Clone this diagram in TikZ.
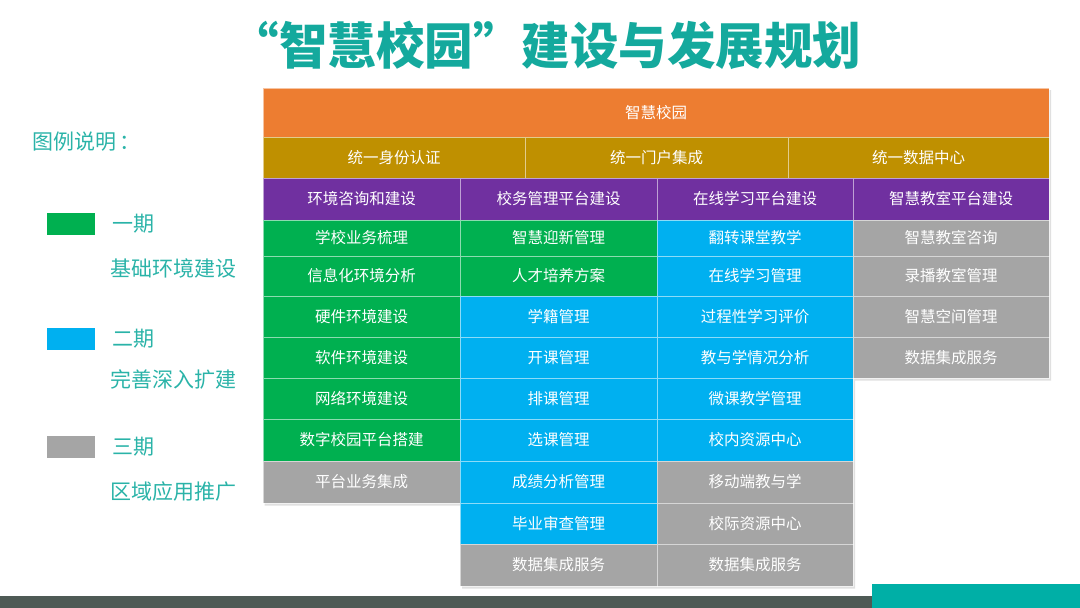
\documentclass[tikz,border=0pt]{standalone}
\usepackage{fontspec}
\newfontfamily\cjk{Noto Sans CJK SC}
\usetikzlibrary{calc}
\definecolor{cOrange}{HTML}{ED7D31}
\definecolor{cGold}{HTML}{BF9000}
\definecolor{cPurple}{HTML}{7030A0}
\definecolor{cGreen}{HTML}{00B050}
\definecolor{cBlue}{HTML}{00B0F0}
\definecolor{cGrey}{HTML}{A5A5A5}
\definecolor{cTitle}{HTML}{14A99D}
\definecolor{cLegend}{HTML}{2AB3A8}
\definecolor{cDark}{HTML}{4E5A55}
\definecolor{cTeal}{HTML}{00AFA6}
\tikzset{
  cell/.style={draw=white, draw opacity=0.55, line width=0.8pt, text=white,
    font=\cjk\fontsize{15.5}{16}\selectfont, inner sep=0pt, outer sep=0pt},
  legtext/.style={anchor=west, text=cLegend, font=\cjk\fontsize{21}{22}\selectfont, inner sep=0pt},
  legbox/.style={inner sep=0pt, minimum width=48pt, minimum height=22pt},
}
\newcommand\cellnode[7]{%
  \pgfmathsetmacro\cw{#4-#2}\pgfmathsetmacro\ch{#5-#3}%
  \node[cell, fill=#6, minimum width=\cw pt, minimum height=\ch pt] (#1) at ({(#2+#4)/2},{(#3+#5)/2}) {#7};}
\begin{document}
\begin{tikzpicture}[x=1pt,y=-1pt]
\useasboundingbox (0,0) rectangle (1080,608);
% title
\node[text=cTitle, font=\cjk\bfseries\fontsize{50}{52}\selectfont, inner sep=0pt, xscale=0.97] (title) at (546,45) {“智慧校园”建设与发展规划};
% legend
\node[legtext] (legtitle) at (32,142) {图例说明\,：};
\node[legbox, fill=cGreen] (lg1) at (71,224) {};
\node[legtext] (lt1) at (112,224) {一期};
\node[legtext] (ld1) at (110,268) {基础环境建设};
\node[legbox, fill=cBlue] (lg2) at (71,339) {};
\node[legtext] (lt2) at (112,339) {二期};
\node[legtext] (ld2) at (110,379) {完善深入扩建};
\node[legbox, fill=cGrey] (lg3) at (71,447) {};
\node[legtext] (lt3) at (112,447) {三期};
\node[legtext] (ld3) at (110,492) {区域应用推广};
% shadow of the grid
\fill[black, opacity=0.12] (264.5,90) -- (1051,90) -- (1051,380.5) -- (855,380.5) -- (855,588.5) -- (462,588.5) -- (462,505.5) -- (264.5,505.5) -- cycle;
% header rows
\cellnode{top}{263}{88}{1049}{137}{cOrange}{智慧校园}
\cellnode{u1}{263}{137}{525}{178}{cGold}{统一身份认证}
\cellnode{u2}{525}{137}{788}{178}{cGold}{统一门户集成}
\cellnode{u3}{788}{137}{1049}{178}{cGold}{统一数据中心}
\cellnode{p1}{263}{178}{460}{220}{cPurple}{环境咨询和建设}
\cellnode{p2}{460}{178}{657}{220}{cPurple}{校务管理平台建设}
\cellnode{p3}{657}{178}{853}{220}{cPurple}{在线学习平台建设}
\cellnode{p4}{853}{178}{1049}{220}{cPurple}{智慧教室平台建设}
% column 1
\cellnode{a1}{263}{220}{460}{256}{cGreen}{学校业务梳理}
\cellnode{a2}{263}{256}{460}{296}{cGreen}{信息化环境分析}
\cellnode{a3}{263}{296}{460}{337}{cGreen}{硬件环境建设}
\cellnode{a4}{263}{337}{460}{378}{cGreen}{软件环境建设}
\cellnode{a5}{263}{378}{460}{419}{cGreen}{网络环境建设}
\cellnode{a6}{263}{419}{460}{461}{cGreen}{数字校园平台搭建}
\cellnode{a7}{263}{461}{460}{503}{cGrey}{平台业务集成}
% column 2
\cellnode{b1}{460}{220}{657}{256}{cGreen}{智慧迎新管理}
\cellnode{b2}{460}{256}{657}{296}{cGreen}{人才培养方案}
\cellnode{b3}{460}{296}{657}{337}{cBlue}{学籍管理}
\cellnode{b4}{460}{337}{657}{378}{cBlue}{开课管理}
\cellnode{b5}{460}{378}{657}{419}{cBlue}{排课管理}
\cellnode{b6}{460}{419}{657}{461}{cBlue}{选课管理}
\cellnode{b7}{460}{461}{657}{503}{cBlue}{成绩分析管理}
\cellnode{b8}{460}{503}{657}{544}{cBlue}{毕业审查管理}
\cellnode{b9}{460}{544}{657}{586}{cGrey}{数据集成服务}
% column 3
\cellnode{c1}{657}{220}{853}{256}{cBlue}{翻转课堂教学}
\cellnode{c2}{657}{256}{853}{296}{cBlue}{在线学习管理}
\cellnode{c3}{657}{296}{853}{337}{cBlue}{过程性学习评价}
\cellnode{c4}{657}{337}{853}{378}{cBlue}{教与学情况分析}
\cellnode{c5}{657}{378}{853}{419}{cBlue}{微课教学管理}
\cellnode{c6}{657}{419}{853}{461}{cBlue}{校内资源中心}
\cellnode{c7}{657}{461}{853}{503}{cGrey}{移动端教与学}
\cellnode{c8}{657}{503}{853}{544}{cGrey}{校际资源中心}
\cellnode{c9}{657}{544}{853}{586}{cGrey}{数据集成服务}
% column 4
\cellnode{d1}{853}{220}{1049}{256}{cGrey}{智慧教室咨询}
\cellnode{d2}{853}{256}{1049}{296}{cGrey}{录播教室管理}
\cellnode{d3}{853}{296}{1049}{337}{cGrey}{智慧空间管理}
\cellnode{d4}{853}{337}{1049}{378}{cGrey}{数据集成服务}
% bottom bars
\fill[cDark] (0,596) rectangle (872,608);
\fill[cTeal] (872,584) rectangle (1080,608);
\end{tikzpicture}
\end{document}
